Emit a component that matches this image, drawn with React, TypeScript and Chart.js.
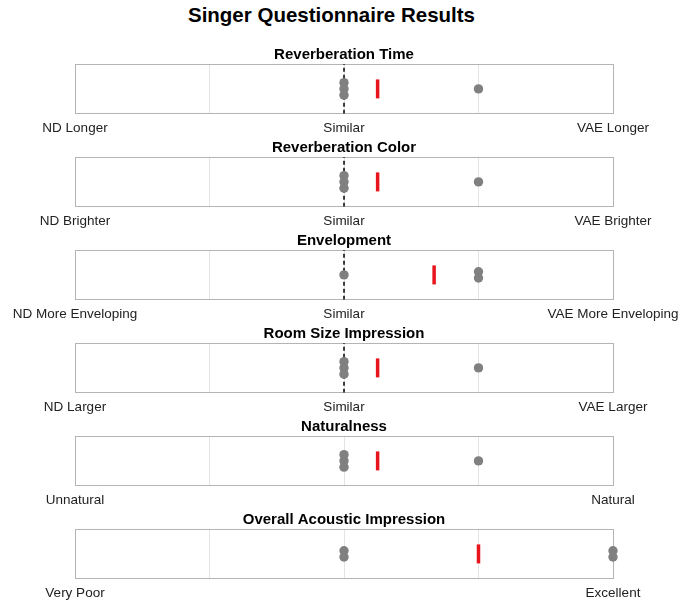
import React, { useEffect, useRef } from "react";
import { Chart, registerables } from "chart.js";

Chart.register(...registerables);

const mainTitle = "Singer Questionnaire Results";
const questions = [
  "Reverberation Time",
  "Reverberation Color",
  "Envelopment",
  "Room Size Impression",
  "Naturalness",
  "Overall Acoustic Impression",
];
const leftLabels = ["ND Longer", "ND Brighter", "ND More Enveloping", "ND Larger", "Unnatural", "Very Poor"];
const midLabels = ["Similar", "Similar", "Similar", "Similar", "", ""];
const rightLabels = ["VAE Longer", "VAE Brighter", "VAE More Enveloping", "VAE Larger", "Natural", "Excellent"];
const responses = [
  [0, 0, 0, 1],
  [0, 0, 0, 1],
  [0, 1, 1],
  [0, 0, 0, 1],
  [0, 0, 0, 1],
  [0, 0, 2, 2],
];
const means = [0.25, 0.25, 0.67, 0.25, 0.25, 1];
const showSimilarLine = [true, true, true, true, false, false];

const FONT = 'Helvetica, Arial, "Liberation Sans", sans-serif';
const FRAME = "#b4b4b4";
const GRID = "#e4e4e4";
const DOT = "#808080";
const RED = "#e8141c";

function stackPoints(vals: number[]) {
  const counts: Record<string, number> = {};
  vals.forEach((v) => (counts[v] = (counts[v] || 0) + 1));
  const seen: Record<string, number> = {};
  return vals.map((v) => {
    const n = counts[v];
    const k = seen[v] || 0;
    seen[v] = k + 1;
    return { x: v, y: (k - (n - 1) / 2) * 0.25 };
  });
}

export default function App() {
  const refs = useRef<(HTMLCanvasElement | null)[]>([]);

  useEffect(() => {
    const charts: Chart[] = [];
    questions.forEach((q, i) => {
      const canvas = refs.current[i];
      if (!canvas) return;
      const datasets: any[] = [
        {
          type: "scatter",
          data: stackPoints(responses[i]),
          pointRadius: 4.7,
          pointBorderWidth: 0,
          backgroundColor: DOT,
          borderColor: DOT,
          clip: false,
        },
        {
          type: "scatter",
          data: [{ x: means[i], y: 0 }],
          pointStyle: "line",
          pointRotation: 90,
          pointRadius: 9.5,
          pointBorderWidth: 3.5,
          borderColor: RED,
          backgroundColor: RED,
          clip: false,
        },
      ];
      if (showSimilarLine[i]) {
        datasets.push({
          type: "line",
          data: [
            { x: 0, y: -1 },
            { x: 0, y: 1 },
          ],
          borderColor: "#000",
          borderWidth: 1.5,
          borderDash: [4, 3],
          pointRadius: 0,
          fill: false,
        });
      }
      const chart = new Chart(canvas, {
        type: "scatter",
        data: { datasets },
        options: {
          responsive: false,
          animation: false,
          events: [],
          layout: { padding: { left: 75, right: 86, top: 0, bottom: 1 } },
          plugins: {
            legend: { display: false },
            tooltip: { enabled: false },
            title: {
              display: true,
              text: q,
              color: "#000",
              font: { family: FONT, size: 15, weight: "bold" },
              padding: { top: 4, bottom: 0 },
            },
          },
          scales: {
            x: {
              type: "linear",
              min: -2,
              max: 2,
              border: { display: false },
              grid: {
                drawTicks: false,
                color: (ctx: any) =>
                  ctx.tick && Math.abs(ctx.tick.value) === 2 ? FRAME : GRID,
                lineWidth: 1,
              },
              ticks: {
                stepSize: 1,
                autoSkip: false,
                maxRotation: 0,
                minRotation: 0,
                padding: 6,
                color: "#222",
                font: { family: FONT, size: 13.5 },
                callback: (v: any) => {
                  if (v === -2) return leftLabels[i];
                  if (v === 0) return midLabels[i];
                  if (v === 2) return rightLabels[i];
                  return "";
                },
              },
            },
            y: {
              type: "linear",
              min: -1,
              max: 1,
              border: { display: false },
              afterBuildTicks: (axis: any) => {
                axis.ticks = [{ value: -1 }, { value: 1 }];
              },
              grid: { drawTicks: false, color: FRAME, lineWidth: 1 },
              ticks: { display: false },
            },
          },
        },
      } as any);
      charts.push(chart);
    });
    return () => charts.forEach((c) => c.destroy());
  }, []);

  return (
    <div
      style={{
        position: "absolute",
        left: 0,
        top: 0,
        width: 699,
        height: 601,
        overflow: "hidden",
        background: "#fff",
      }}
    >
      <div
        style={{
          position: "absolute",
          left: 0,
          top: 3,
          width: 663,
          textAlign: "center",
          fontFamily: FONT,
          fontWeight: "bold",
          fontSize: 20.5,
          lineHeight: "24px",
          color: "#000",
        }}
      >
        {mainTitle}
      </div>
      {questions.map((q, i) => (
        <canvas
          key={q}
          ref={(el) => {
            refs.current[i] = el;
          }}
          width={699}
          height={101}
          style={{ position: "absolute", left: 0, top: 42 + 93 * i }}
        />
      ))}
    </div>
  );
}
